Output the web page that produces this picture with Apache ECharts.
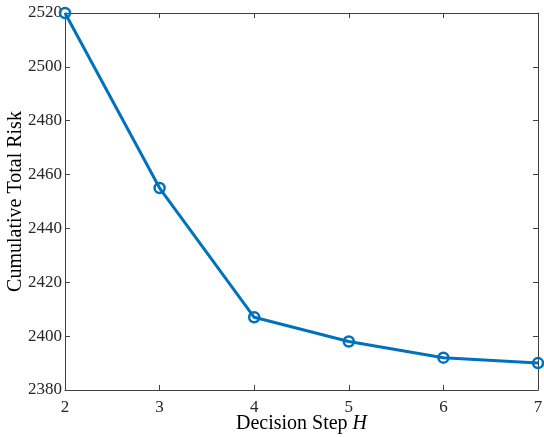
<!DOCTYPE html>
<html>
<head>
<meta charset="utf-8">
<script src="https://cdn.jsdelivr.net/npm/echarts@6/dist/echarts.min.js"></script>
<style>
  html, body { margin: 0; padding: 0; background: #fff; }
  #chart { width: 544px; height: 437px; }
</style>
</head>
<body>
<div id="chart"></div>
<script>
const steps = [2, 3, 4, 5, 6, 7];
const risk = [2520, 2455, 2407, 2398, 2392, 2390];
const yTicks = [2380, 2400, 2420, 2440, 2460, 2480, 2500, 2520];

const font = 'Liberation Serif';
const axisColor = '#404040';

const myChart = echarts.init(document.getElementById('chart'));

const tickStyle = { show: true, inside: true, length: 5, lineStyle: { color: axisColor, width: 1 } };

myChart.setOption({
  animation: false,
  textStyle: { fontFamily: font },
  grid: { left: 65, right: 6, top: 13, bottom: 47, containLabel: false, outerBoundsMode: 'none' },
  xAxis: [{
    type: 'value',
    min: steps[0],
    max: steps[steps.length - 1],
    interval: 1,
    position: 'bottom',
    name: '{n|Decision Step }{i|H}',
    nameLocation: 'middle',
    nameGap: 24,
    nameMoveOverlap: false,
    nameTextStyle: {
      rich: {
        n: { fontFamily: font, fontSize: 20, color: '#000' },
        i: { fontFamily: font, fontSize: 20, color: '#000', fontStyle: 'italic' }
      }
    },
    axisLine: { show: true, onZero: false, lineStyle: { color: axisColor, width: 1 } },
    axisTick: tickStyle,
    axisLabel: { fontFamily: font, fontSize: 17, color: '#262626', margin: 9 },
    splitLine: { show: false }
  }, {
    type: 'value',
    min: steps[0],
    max: steps[steps.length - 1],
    interval: 1,
    position: 'top',
    axisLine: { show: true, onZero: false, lineStyle: { color: axisColor, width: 1 } },
    axisTick: tickStyle,
    axisLabel: { show: false },
    splitLine: { show: false }
  }],
  yAxis: [{
    type: 'value',
    min: yTicks[0],
    max: yTicks[yTicks.length - 1],
    interval: 20,
    position: 'left',
    name: 'Cumulative Total Risk',
    nameLocation: 'middle',
    nameGap: 39,
    nameMoveOverlap: false,
    nameTextStyle: { fontFamily: font, fontSize: 20, color: '#000' },
    axisLine: { show: true, onZero: false, lineStyle: { color: axisColor, width: 1 } },
    axisTick: tickStyle,
    axisLabel: { fontFamily: font, fontSize: 17, color: '#262626', margin: 3, formatter: v => String(v) },
    splitLine: { show: false }
  }, {
    type: 'value',
    min: yTicks[0],
    max: yTicks[yTicks.length - 1],
    interval: 20,
    position: 'right',
    axisLine: { show: true, onZero: false, lineStyle: { color: axisColor, width: 1 } },
    axisTick: tickStyle,
    axisLabel: { show: false },
    splitLine: { show: false }
  }],
  series: [{
    type: 'line',
    data: steps.map((s, i) => [s, risk[i]]),
    symbol: 'circle',
    symbolSize: 10,
    clip: false,
    lineStyle: { color: '#0072BD', width: 3 },
    itemStyle: { color: 'rgba(0,0,0,0)', borderColor: '#0072BD', borderWidth: 2.5 }
  }]
});
</script>
</body>
</html>
